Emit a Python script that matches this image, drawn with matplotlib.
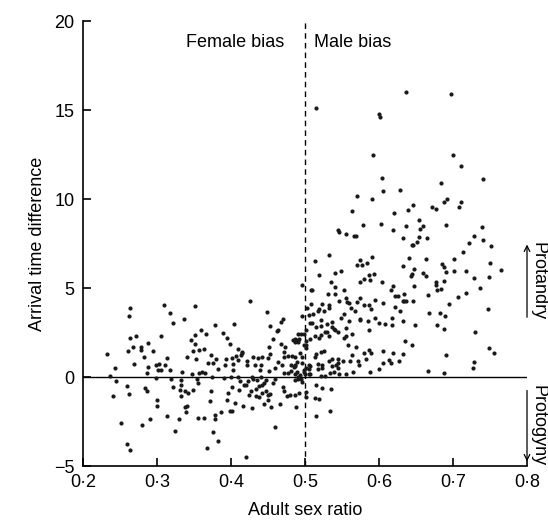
import matplotlib
matplotlib.use("Agg")
import matplotlib.pyplot as plt

plt.rcParams['font.family'] = ['Liberation Sans', 'DejaVu Sans']

# ---- data: female-biased populations (adult sex ratio < 0.5) ----
female_x = [
    0.233, 0.261, 0.278, 0.294, 0.282, 0.313, 0.269, 0.243, 0.237, 0.244, 0.288, 0.286, 0.298, 0.302,
    0.311, 0.301, 0.305, 0.318, 0.334, 0.299, 0.319, 0.332, 0.333, 0.322, 0.331, 0.332, 0.260, 0.262,
    0.241, 0.284, 0.286, 0.300, 0.300, 0.314, 0.330, 0.291, 0.280, 0.251, 0.324, 0.259, 0.263,
    0.264, 0.262, 0.309, 0.317, 0.322, 0.337, 0.264, 0.272, 0.306, 0.288, 0.268, 0.279,
    0.425, 0.352, 0.448, 0.470, 0.468, 0.453, 0.464, 0.462, 0.404, 0.378, 0.360, 0.366, 0.351, 0.346,
    0.352, 0.389, 0.394, 0.398, 0.409, 0.415, 0.457, 0.451, 0.468, 0.473, 0.363, 0.484, 0.487, 0.490,
    0.492, 0.487, 0.491,
    0.349, 0.357, 0.373, 0.380, 0.341, 0.353, 0.369, 0.375, 0.382, 0.392, 0.393, 0.401, 0.403, 0.407,
    0.409, 0.414, 0.415, 0.422, 0.422, 0.430, 0.433, 0.437, 0.442, 0.441, 0.450, 0.453, 0.463, 0.469,
    0.472, 0.471, 0.477, 0.482, 0.487, 0.481, 0.487, 0.485, 0.481, 0.477, 0.471, 0.460, 0.451, 0.439,
    0.441, 0.428, 0.435, 0.438, 0.442, 0.447, 0.445, 0.457, 0.459, 0.434, 0.430, 0.423, 0.420, 0.418,
    0.410, 0.403, 0.391, 0.365, 0.361, 0.357, 0.354, 0.356, 0.347, 0.374, 0.400, 0.412, 0.402, 0.396,
    0.395, 0.373, 0.349, 0.342, 0.338, 0.372, 0.411, 0.424, 0.427, 0.434, 0.438, 0.442, 0.447, 0.450,
    0.453, 0.450, 0.444, 0.454, 0.466, 0.470, 0.472, 0.476, 0.480, 0.486, 0.491, 0.486, 0.459, 0.429,
    0.416, 0.406, 0.399, 0.402, 0.386, 0.379, 0.379, 0.364, 0.355, 0.341, 0.339, 0.338, 0.375, 0.382,
    0.367, 0.420,
    0.496, 0.496, 0.490, 0.494, 0.498, 0.498,
    0.493, 0.496, 0.496, 0.498, 0.499, 0.489, 0.487, 0.489, 0.487, 0.493, 0.494, 0.496, 0.491, 0.492,
    0.488,
]
female_y = [
    1.31, 1.48, 1.52, 1.46, 1.14, 1.07, 0.75, 0.49, 0.08, -0.22, 0.54, 0.21, 0.69, 0.71,
    0.67, 0.38, 0.38, 0.38, 0.28, -0.06, -0.11, -0.19, -0.47, -0.56, -0.75, -1.07, -0.49, -0.95,
    -1.09, -0.60, -0.77, -1.31, -1.63, -2.19, -2.38, -2.34, -2.70, -2.58, -3.01, -3.78, -4.08,
    3.90, 3.45, 4.05, 3.60, 3.03, 3.26, 2.17, 2.30, 2.29, 1.93, 1.70, 1.67,
    4.25, 3.97, 3.63, 3.26, 3.11, 2.87, 2.64, 2.59, 3.00, 2.92, 2.66, 2.44, 2.34, 2.08,
    1.87, 2.47, 2.21, 1.84, 1.59, 1.35, 2.12, 1.71, 1.84, 1.70, 1.59, 2.08, 2.12, 2.08,
    2.12, 1.95, 1.97,
    1.46, 1.50, 1.25, 1.03, 1.10, 0.99, 0.81, 0.81, 0.45, 0.67, 1.01, 1.09, 0.71, 1.18,
    0.95, 1.25, 1.40, 0.88, 0.66, 1.14, 0.69, 1.09, 1.10, 0.69, 1.07, 1.29, 0.82, 0.69,
    1.10, 1.40, 1.18, 1.18, 1.14, 0.69, 0.69, 0.54, 0.36, 0.21, 0.21, 0.51, 0.32, 0.39,
    0.02, 0.02, -0.17, -0.51, -0.43, -0.17, -0.36, -0.32, -0.13, -0.66, -0.11, -0.21, -0.43, -0.43,
    -0.02, 0.39, -0.06, 0.21, 0.30, 0.24, -0.13, -0.36, 0.17, -0.02, 0.02, -0.21, -0.54, -0.92,
    -1.29, -0.79, -0.73, -0.92, -0.81, -1.35, -0.73, -0.99, -0.81, -1.07, -1.14, -0.92, -0.81, -0.99,
    -0.95, -1.29, -1.52, -1.67, -1.53, -0.58, -0.81, -1.07, -1.03, -0.99, 0.02, -0.17, -2.79, -1.76,
    -1.63, -1.48, -1.89, -1.93, -1.98, -2.15, -2.34, -2.30, -2.30, -1.63, -1.97, -1.67, -3.07, -3.58,
    -4.01, -4.48,
    5.19, 3.44, 2.42, 2.42, 2.42, 1.80,
    1.37, 1.11, 0.77, 0.30, 0.39, 0.82, 0.64, 0.30, 0.17, 0.11, -0.13, -0.30, -0.09, -0.88,
    -1.70,
]

# ---- data: male-biased populations (adult sex ratio >= 0.5) ----
male_x = [
    0.515, 0.600, 0.601, 0.636, 0.697,
    0.592, 0.604, 0.605, 0.628, 0.570, 0.590, 0.564, 0.620, 0.639, 0.578, 0.603, 0.637, 0.544, 0.546,
    0.556, 0.566, 0.569, 0.619, 0.632,
    0.700, 0.711, 0.740, 0.684, 0.646, 0.672, 0.677, 0.688, 0.692, 0.711, 0.708, 0.654, 0.659, 0.656,
    0.691, 0.739, 0.654, 0.665, 0.728, 0.741, 0.651,
    0.644, 0.646, 0.721, 0.751, 0.714, 0.641, 0.664, 0.702, 0.685, 0.688, 0.750, 0.647, 0.659, 0.664,
    0.690, 0.701, 0.718, 0.765, 0.645, 0.643, 0.728, 0.749, 0.677, 0.677, 0.688, 0.647, 0.678, 0.684,
    0.737, 0.666, 0.718, 0.707, 0.646, 0.695, 0.747, 0.668, 0.683, 0.689, 0.649, 0.678, 0.688, 0.730,
    0.645, 0.748, 0.756,
    0.691, 0.728, 0.727, 0.666, 0.688,
    0.533, 0.514, 0.574, 0.590, 0.570, 0.577, 0.584, 0.632, 0.519, 0.540, 0.548, 0.586, 0.593, 0.580,
    0.574, 0.588, 0.535, 0.604, 0.540, 0.619, 0.508, 0.510, 0.553, 0.616, 0.531, 0.541, 0.555, 0.574,
    0.621, 0.625, 0.634, 0.546, 0.557, 0.560, 0.570, 0.594, 0.606, 0.632, 0.634, 0.636, 0.508, 0.523,
    0.532, 0.532, 0.580, 0.587, 0.589, 0.622, 0.503, 0.518, 0.519, 0.526, 0.562, 0.567, 0.553, 0.629,
    0.505, 0.511, 0.521, 0.548, 0.560, 0.574, 0.574, 0.595, 0.585, 0.617, 0.632, 0.507, 0.510, 0.530,
    0.537, 0.600, 0.608, 0.618, 0.515, 0.522, 0.536, 0.539, 0.541, 0.544, 0.555, 0.587, 0.501, 0.527,
    0.530, 0.532, 0.514, 0.519, 0.522, 0.564, 0.553, 0.555, 0.507, 0.635, 0.502, 0.501, 0.558, 0.569,
    0.501,
    0.515, 0.521, 0.525, 0.513, 0.532, 0.537, 0.544, 0.544, 0.536, 0.542, 0.545, 0.552, 0.561, 0.563,
    0.571, 0.573, 0.580, 0.582, 0.589, 0.586, 0.605, 0.619, 0.632, 0.605, 0.613, 0.616, 0.627, 0.600,
    0.588, 0.565, 0.556, 0.546, 0.539, 0.534, 0.527, 0.521, 0.523, 0.523, 0.517, 0.518, 0.505, 0.507,
    0.505, 0.501, 0.505, 0.507, 0.500, 0.515, 0.523, 0.535, 0.501, 0.501, 0.514, 0.519, 0.534, 0.515,
]
male_y = [
    15.1, 14.8, 14.6, 16.0, 15.9,
    12.45, 11.18, 10.43, 10.52, 10.19, 9.98, 9.34, 9.23, 9.38, 8.54, 8.61, 8.50, 8.26, 8.13,
    8.03, 7.92, 7.92, 8.28, 7.79,
    12.47, 11.85, 11.10, 10.88, 9.68, 9.57, 9.46, 9.85, 10.00, 9.81, 9.53, 8.82, 8.47, 8.31,
    8.56, 8.41, 7.88, 7.83, 7.94, 7.70, 7.58,
    7.43, 7.42, 7.55, 7.34, 7.04, 6.70, 6.61, 6.65, 6.37, 6.20, 6.42, 6.09, 5.84, 5.69,
    5.90, 5.96, 5.97, 6.03, 5.79, 5.69, 5.56, 5.64, 5.36, 5.15, 5.39, 5.13, 4.89, 4.96,
    5.02, 4.59, 4.70, 4.48, 4.27, 4.12, 3.84, 3.58, 3.61, 3.43, 2.92, 2.92, 2.70, 2.55,
    1.80, 1.63, 1.37,
    1.25, 0.86, 0.52, 0.32, 0.22,
    6.84, 6.54, 6.55, 6.74, 6.27, 6.27, 6.40, 6.24, 5.73, 5.84, 5.94, 5.71, 5.79, 5.52,
    5.36, 5.45, 5.34, 5.34, 5.06, 5.13, 4.91, 4.91, 4.91, 4.91, 4.68, 4.68, 4.46, 4.46,
    4.53, 4.53, 4.66, 4.25, 4.21, 4.14, 4.21, 4.31, 4.18, 4.27, 4.27, 4.27, 4.10, 4.12,
    4.03, 3.88, 4.04, 4.03, 3.84, 3.93, 3.86, 3.72, 3.84, 3.69, 3.88, 3.72, 3.56, 3.71,
    3.50, 3.52, 3.20, 3.33, 3.13, 3.28, 3.18, 3.30, 3.15, 3.30, 3.16, 3.05, 3.02, 2.99,
    3.07, 3.05, 2.96, 2.94, 2.83, 2.88, 2.83, 2.68, 2.64, 2.51, 2.77, 2.62, 2.64, 2.53,
    2.51, 2.32, 2.32, 2.19, 2.38, 2.42, 2.21, 2.29, 2.13, 2.02, 2.00, 1.78, 1.80, 1.67,
    1.61,
    1.29, 1.42, 1.48, 1.10, 0.92, 0.99, 1.01, 0.81, 0.62, 0.69, 0.52, 0.92, 0.88, 1.25,
    0.92, 0.69, 1.33, 1.01, 1.33, 1.50, 1.48, 1.33, 1.31, 0.77, 0.95, 0.81, 0.92, 0.43,
    0.30, 0.28, 0.15, 0.19, 0.30, 0.21, 0.06, 0.08, 0.49, 0.67, 0.73, 0.43, 0.69, 0.60,
    0.47, 0.49, 0.17, 0.17, 0.17, -0.45, -0.60, -0.66, -0.84, -1.10, -1.16, -1.24, -1.93, -2.19,
]

x_ticks = [0.2, 0.3, 0.4, 0.5, 0.6, 0.7, 0.8]
x_tick_labels = ['0·2', '0·3', '0·4', '0·5', '0·6', '0·7', '0·8']
y_ticks = [-5, 0, 5, 10, 15, 20]
y_tick_labels = ['\u22125', '0', '5', '10', '15', '20']

fig = plt.figure(figsize=(5.48, 5.28), dpi=100)
ax = fig.add_axes([0.1515, 0.1174, 0.8102, 0.8428])

ax.scatter(female_x, female_y, s=9, color='#1a1a1a', linewidths=0, zorder=3)
ax.scatter(male_x, male_y, s=9, color='#1a1a1a', linewidths=0, zorder=3)

ax.axhline(0, color='black', lw=1.0, zorder=2)
ax.axvline(0.5, color='black', lw=1.0, ls=(0, (4, 3)), zorder=2)

ax.set_xlim(0.2, 0.8)
ax.set_ylim(-5, 20)
ax.set_xticks(x_ticks)
ax.set_xticklabels(x_tick_labels)
ax.set_yticks(y_ticks)
ax.set_yticklabels(y_tick_labels)
ax.tick_params(direction='in', length=6, width=1.2, labelsize=13, pad=6)
for s in ['top', 'right']:
    ax.spines[s].set_visible(False)
for s in ['left', 'bottom']:
    ax.spines[s].set_linewidth(1.2)

ax.set_xlabel('Adult sex ratio', fontsize=13, labelpad=8)
ax.set_ylabel('Arrival time difference', fontsize=13, labelpad=6)

ax.text(0.405, 18.8, 'Female bias', ha='center', va='center', fontsize=13)
ax.text(0.565, 18.8, 'Male bias', ha='center', va='center', fontsize=13)

ax.annotate('', xy=(0.8, 7.6), xytext=(0.8, 3.2),
            arrowprops=dict(arrowstyle='->', lw=0.9, color='black'), annotation_clip=False)
ax.annotate('', xy=(0.8, -4.9), xytext=(0.8, -0.6),
            arrowprops=dict(arrowstyle='->', lw=0.9, color='black'), annotation_clip=False)
ax.text(0.815, 5.4, 'Protandry', rotation=-90, ha='center', va='center', fontsize=13, clip_on=False)
ax.text(0.815, -2.75, 'Protogyny', rotation=-90, ha='center', va='center', fontsize=13, clip_on=False)

fig.savefig('out.png', dpi=100)
